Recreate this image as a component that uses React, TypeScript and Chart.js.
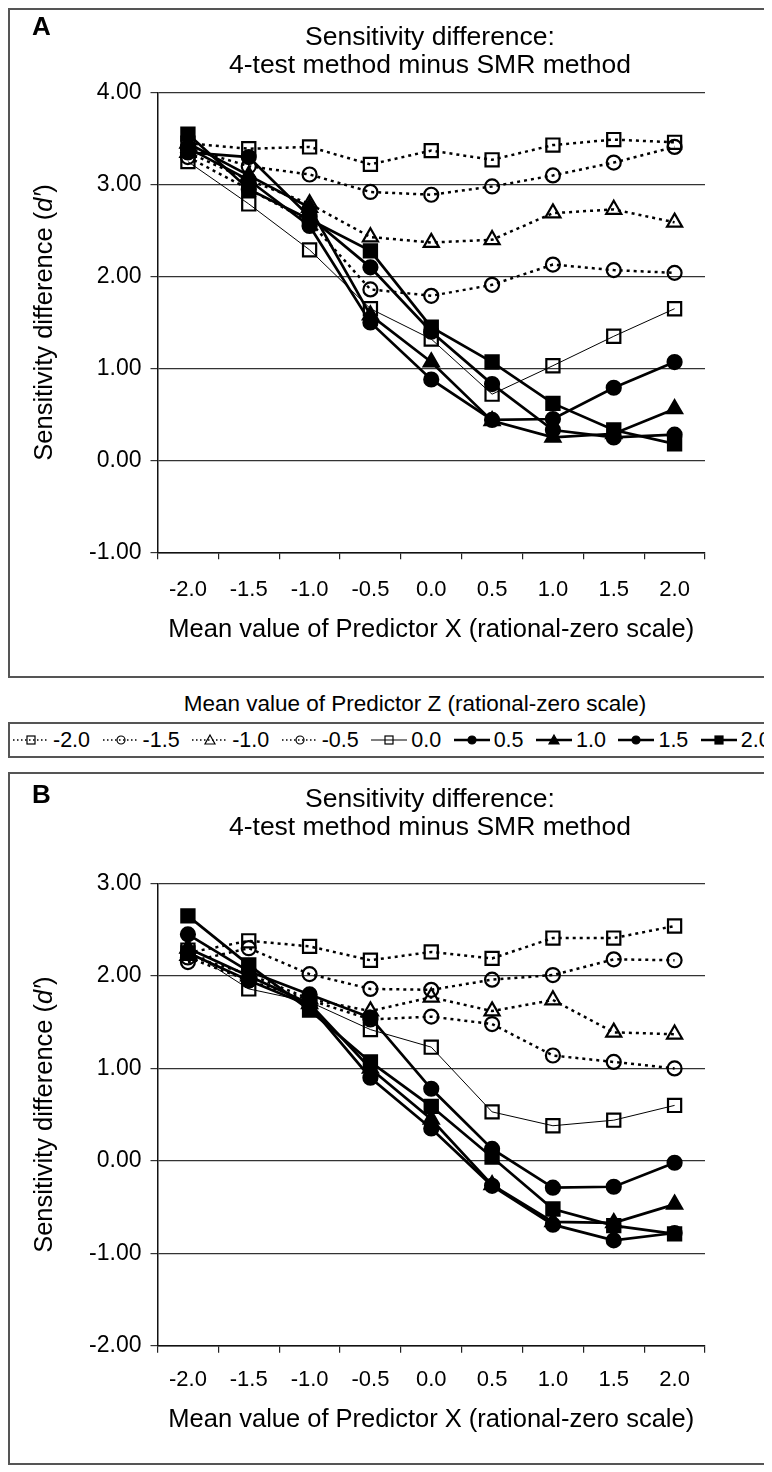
import React, { useEffect, useRef } from 'react';
import { Chart, registerables } from 'chart.js';

Chart.register(...registerables);

// ---------- data ----------
const xCategories = ['-2.0', '-1.5', '-1.0', '-0.5', '0.0', '0.5', '1.0', '1.5', '2.0'];
const zLabels = ['-2.0', '-1.5', '-1.0', '-0.5', '0.0', '0.5', '1.0', '1.5', '2.0'];

// Panel A (rows: Predictor Z levels, columns: Predictor X levels)
const panelA_zm20 = [3.45, 3.39, 3.41, 3.22, 3.37, 3.27, 3.43, 3.49, 3.46];
const panelA_zm15 = [3.40, 3.20, 3.11, 2.92, 2.89, 2.98, 3.10, 3.24, 3.41];
const panelA_zm10 = [3.35, 3.05, 2.79, 2.43, 2.37, 2.40, 2.69, 2.73, 2.59];
const panelA_zm05 = [3.30, 2.95, 2.60, 1.86, 1.79, 1.91, 2.13, 2.07, 2.04];
const panelA_z00 = [3.25, 2.79, 2.29, 1.65, 1.32, 0.72, 1.03, 1.35, 1.65];
const panelA_z05 = [3.40, 3.05, 2.55, 1.50, 0.88, 0.44, 0.45, 0.79, 1.07];
const panelA_z10 = [3.45, 3.10, 2.75, 1.58, 1.07, 0.43, 0.25, 0.29, 0.56];
const panelA_z15 = [3.35, 3.30, 2.65, 2.10, 1.40, 0.83, 0.33, 0.25, 0.28];
const panelA_z20 = [3.55, 2.95, 2.62, 2.28, 1.45, 1.07, 0.62, 0.33, 0.18];

// Panel B
const panelB_zm20 = [2.25, 2.38, 2.32, 2.17, 2.26, 2.19, 2.41, 2.41, 2.54];
const panelB_zm15 = [2.15, 2.30, 2.02, 1.86, 1.85, 1.96, 2.01, 2.18, 2.17];
const panelB_zm10 = [2.22, 2.02, 1.75, 1.62, 1.77, 1.62, 1.74, 1.39, 1.37];
const panelB_zm05 = [2.20, 1.95, 1.74, 1.53, 1.56, 1.48, 1.14, 1.07, 1.00];
const panelB_z00 = [2.28, 1.86, 1.72, 1.42, 1.23, 0.53, 0.38, 0.44, 0.60];
const panelB_z05 = [2.45, 2.05, 1.80, 1.55, 0.78, 0.13, -0.29, -0.28, -0.02];
const panelB_z10 = [2.30, 2.00, 1.70, 1.00, 0.45, -0.26, -0.66, -0.67, -0.47];
const panelB_z15 = [2.25, 1.95, 1.68, 0.90, 0.35, -0.27, -0.69, -0.86, -0.78];
const panelB_z20 = [2.65, 2.12, 1.63, 1.07, 0.59, 0.04, -0.52, -0.70, -0.79];

const panelAValues = [panelA_zm20, panelA_zm15, panelA_zm10, panelA_zm05, panelA_z00, panelA_z05, panelA_z10, panelA_z15, panelA_z20];
const panelBValues = [panelB_zm20, panelB_zm15, panelB_zm10, panelB_zm05, panelB_z00, panelB_z05, panelB_z10, panelB_z15, panelB_z20];

const panelATicks = { min: -1, max: 4 };
const panelBTicks = { min: -2, max: 3 };

const chartTitle = ['Sensitivity difference:', '4-test method minus SMR method'];
const xAxisTitle = 'Mean value of Predictor X (rational-zero scale)';
const legendTitle = 'Mean value of Predictor Z (rational-zero scale)';
const yTitleParts = [
  { text: 'Sensitivity difference (', italic: false },
  { text: 'd′', italic: true },
  { text: ')', italic: false },
];

// ---------- styles ----------
const FONT = '"Liberation Sans", Arial, Helvetica, sans-serif';

type SeriesStyle = { line: 'dotted' | 'thin' | 'thick'; point: 'rect' | 'circle' | 'triangle'; filled: boolean };
const seriesStyles: SeriesStyle[] = [
  { line: 'dotted', point: 'rect', filled: false },
  { line: 'dotted', point: 'circle', filled: false },
  { line: 'dotted', point: 'triangle', filled: false },
  { line: 'dotted', point: 'circle', filled: false },
  { line: 'thin', point: 'rect', filled: false },
  { line: 'thick', point: 'circle', filled: true },
  { line: 'thick', point: 'triangle', filled: true },
  { line: 'thick', point: 'circle', filled: true },
  { line: 'thick', point: 'rect', filled: true },
];

const pointRadiusFor = (p: string) => (p === 'rect' ? 9.3 : p === 'triangle' ? 8.7 : 7);

const yTitlePlugin = {
  id: 'yTitleMixed',
  afterDraw(chart: any, _args: any, opts: any) {
    const { ctx, chartArea } = chart;
    const size = opts.size;
    const fontFor = (it: boolean) => `${it ? 'italic ' : ''}${size}px ${FONT}`;
    ctx.save();
    ctx.fillStyle = '#000';
    ctx.textBaseline = 'middle';
    ctx.textAlign = 'left';
    let total = 0;
    const widths = yTitleParts.map((p) => {
      ctx.font = fontFor(p.italic);
      const w = ctx.measureText(p.text).width;
      total += w;
      return w;
    });
    ctx.translate(opts.x, (chartArea.top + chartArea.bottom) / 2);
    ctx.rotate(-Math.PI / 2);
    let cx = -total / 2;
    yTitleParts.forEach((p, i) => {
      ctx.font = fontFor(p.italic);
      ctx.fillText(p.text, cx, 0);
      cx += widths[i];
    });
    ctx.restore();
  },
};

type Geom = {
  canvasW: number;
  canvasH: number;
  yAxisW: number;
  rightW: number;
  chartTop: number;
  chartBottom: number;
  titlePadTop: number;
  xTickPad: number;
  xTitlePadBottom: number;
  yTitleX: number;
};

const TITLE_SIZE = 26.5;
const TITLE_LH = 28;

function PanelChart({ values, range, geom }: { values: number[][]; range: { min: number; max: number }; geom: Geom }) {
  const ref = useRef<HTMLCanvasElement | null>(null);
  useEffect(() => {
    if (!ref.current) return;
    const datasets = values.map((vals, i) => {
      const s = seriesStyles[i];
      return {
        label: zLabels[i],
        data: vals,
        borderColor: '#000',
        borderWidth: s.line === 'thin' ? 1 : s.line === 'dotted' ? 2.5 : 2.7,
        borderDash: s.line === 'dotted' ? [3, 4] : [],
        pointStyle: s.point,
        pointRadius: pointRadiusFor(s.point),
        pointHoverRadius: pointRadiusFor(s.point),
        pointBorderColor: '#000',
        pointBorderWidth: 2.2,
        pointBackgroundColor: s.filled ? '#000' : 'rgba(0,0,0,0)',
        fill: false,
        tension: 0,
        order: s.filled ? 0 : 1,
        clip: false as any,
      };
    });
    const titlePadBottom = geom.chartTop - geom.titlePadTop - 2 * TITLE_LH;
    const chart = new Chart(ref.current, {
      type: 'line',
      data: { labels: xCategories, datasets },
      plugins: [yTitlePlugin],
      options: {
        responsive: false,
        animation: false,
        devicePixelRatio: 1,
        layout: { padding: 0 },
        plugins: {
          legend: { display: false },
          tooltip: { enabled: false },
          title: {
            display: true,
            text: chartTitle,
            color: '#000',
            font: { family: FONT, size: TITLE_SIZE, weight: 'normal', lineHeight: TITLE_LH / TITLE_SIZE },
            padding: { top: geom.titlePadTop, bottom: titlePadBottom },
          },
          yTitleMixed: { x: geom.yTitleX, size: 25.5 },
        } as any,
        scales: {
          x: {
            type: 'category',
            offset: true,
            grid: {
              display: true,
              offset: true,
              drawOnChartArea: false,
              drawTicks: true,
              tickLength: 7,
              color: '#222',
              lineWidth: 1.2,
            },
            border: { display: true, color: '#111', width: 1.5 },
            ticks: {
              color: '#000',
              font: { family: FONT, size: 22 },
              padding: geom.xTickPad,
              maxRotation: 0,
              autoSkip: false,
            },
            title: {
              display: true,
              text: xAxisTitle,
              color: '#000',
              font: { family: FONT, size: 25.5 },
              padding: { top: 0, bottom: geom.xTitlePadBottom },
            },
            afterFit: (scale: any) => {
              scale.height = geom.canvasH - geom.chartBottom;
            },
          },
          y: {
            type: 'linear',
            position: 'left',
            min: range.min,
            max: range.max,
            grid: {
              display: true,
              drawOnChartArea: true,
              drawTicks: true,
              tickLength: 7,
              color: '#333',
              lineWidth: 1.2,
            },
            border: { display: true, color: '#111', width: 1.5 },
            ticks: {
              stepSize: 1,
              color: '#000',
              font: { family: FONT, size: 23 },
              padding: 9,
              callback: (v: any) => Number(v).toFixed(2),
            },
            title: { display: false },
            afterFit: (scale: any) => {
              scale.width = geom.yAxisW;
            },
          },
          yRight: {
            type: 'linear',
            position: 'right',
            display: true,
            grid: { display: false, drawTicks: false },
            border: { display: false },
            ticks: { display: false },
            afterFit: (scale: any) => {
              scale.width = geom.rightW;
            },
          },
        },
      } as any,
    });
    return () => chart.destroy();
  }, [values, range, geom]);
  return <canvas ref={ref} width={geom.canvasW} height={geom.canvasH} style={{ display: 'block' }} />;
}

function LegendIcon({ s }: { s: SeriesStyle }) {
  const sw = s.line === 'thin' ? 1 : s.line === 'dotted' ? 1.4 : 2.3;
  const dash = s.line === 'dotted' ? '1.5,2.5' : undefined;
  const fill = s.filled ? '#000' : 'none';
  const cx = 18;
  const cy = 8;
  let marker: React.ReactNode;
  if (s.point === 'rect') {
    marker = <rect x={cx - 4} y={cy - 4} width={8} height={8} fill={fill} stroke="#000" strokeWidth={1.2} />;
  } else if (s.point === 'circle') {
    marker = <circle cx={cx} cy={cy} r={4} fill={fill} stroke="#000" strokeWidth={1.2} />;
  } else {
    marker = <polygon points={`${cx},${cy - 5} ${cx + 5},${cy + 4} ${cx - 5},${cy + 4}`} fill={fill} stroke="#000" strokeWidth={1.2} />;
  }
  return (
    <svg width={36} height={16} style={{ display: 'block' }}>
      <line x1={0} y1={cy} x2={36} y2={cy} stroke="#000" strokeWidth={sw} strokeDasharray={dash} />
      {marker}
    </svg>
  );
}

const boxStyle: React.CSSProperties = {
  position: 'absolute',
  left: 0,
  width: 764,
  boxSizing: 'border-box',
  border: '2px solid #555',
  borderRight: 'none',
  overflow: 'hidden',
  background: '#fff',
};

const letterStyle: React.CSSProperties = {
  position: 'absolute',
  left: 22,
  fontFamily: FONT,
  fontWeight: 'bold',
  fontSize: 26,
  lineHeight: '30px',
  color: '#000',
};

const geomA: Geom = {
  canvasW: 840,
  canvasH: 666,
  yAxisW: 147.5,
  rightW: 145,
  chartTop: 82.7,
  chartBottom: 542.3,
  titlePadTop: 14,
  xTickPad: 17.5,
  xTitlePadBottom: 31,
  yTitleX: 35,
};

const geomB: Geom = {
  canvasW: 840,
  canvasH: 689,
  yAxisW: 147.5,
  rightW: 145,
  chartTop: 109.5,
  chartBottom: 571.8,
  titlePadTop: 12,
  xTickPad: 14,
  xTitlePadBottom: 28,
  yTitleX: 35,
};

export default function App() {
  return (
    <div style={{ position: 'relative', width: 764, height: 1458, fontFamily: FONT, color: '#000' }}>
      <div style={{ ...boxStyle, top: 0, height: 670 }}>
        <PanelChart values={panelAValues} range={panelATicks} geom={geomA} />
        <div style={{ ...letterStyle, top: 1 }}>A</div>
      </div>

      <div
        style={{
          position: 'absolute',
          top: 684,
          left: 407,
          transform: 'translateX(-50%)',
          whiteSpace: 'nowrap',
          fontSize: 22.5,
          lineHeight: '24px',
        }}
      >
        {legendTitle}
      </div>

      <div style={{ ...boxStyle, top: 714, height: 36, display: 'flex', alignItems: 'center', paddingLeft: 3 }}>
        {zLabels.map((z, i) => (
          <div key={z} style={{ display: 'flex', alignItems: 'center', marginRight: 12.5 }}>
            <LegendIcon s={seriesStyles[i]} />
            <span style={{ fontSize: 21.5, lineHeight: '24px', marginLeft: 4, whiteSpace: 'nowrap' }}>{z}</span>
          </div>
        ))}
      </div>

      <div style={{ ...boxStyle, top: 764, height: 693 }}>
        <PanelChart values={panelBValues} range={panelBTicks} geom={geomB} />
        <div style={{ ...letterStyle, top: 5 }}>B</div>
      </div>
    </div>
  );
}
